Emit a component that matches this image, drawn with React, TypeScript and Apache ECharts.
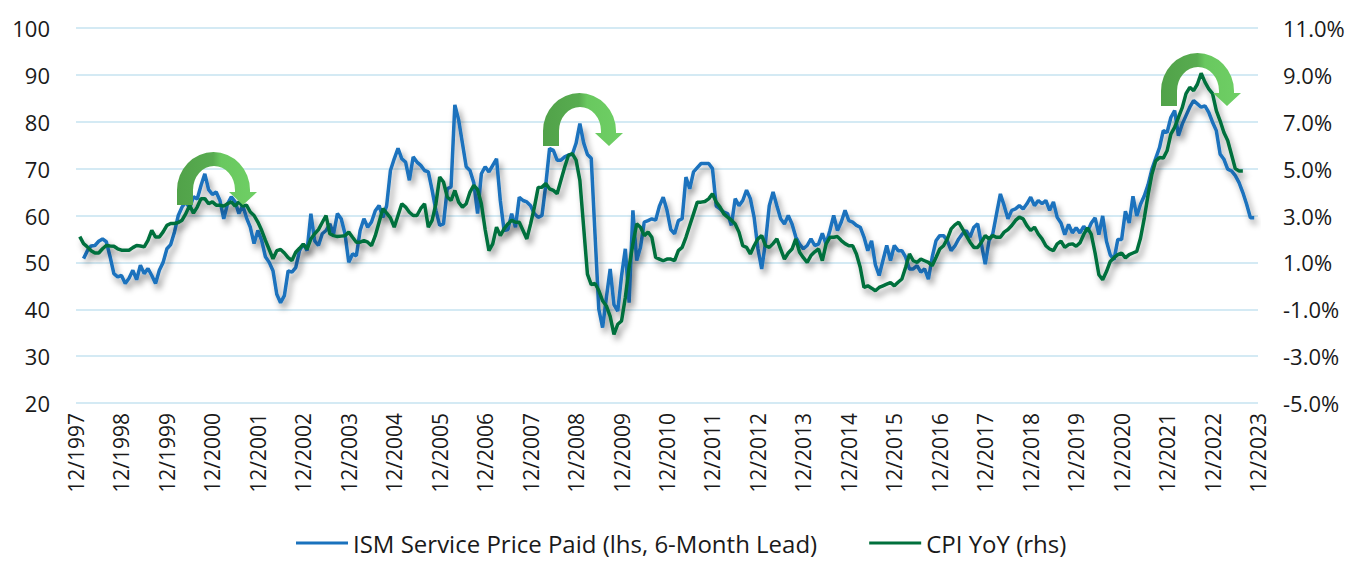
import React, { useEffect, useRef } from "react";
import * as echarts from "echarts";

// Month categories 12/1997 ... 12/2023
const categories: string[] = [];
for (let i = 0; i <= 312; i++) {
  const t = 11 + i;
  categories.push(`${(t % 12) + 1}/${1997 + Math.floor(t / 12)}`);
}

const ismName = "ISM Service Price Paid (lhs, 6-Month Lead)";
const cpiName = "CPI YoY (rhs)";

// ISM Services Prices Paid, shifted 6 months ahead (lhs)
const ism: (number | null)[] = [
  null, null, 50.8, 52.5, 53.5, 53.6, 54.5, 55.0, 54.4, 51.2,
  47.6, 46.9, 47.2, 45.5, 46.6, 48.3, 46.3, 49.4, 47.6, 48.7,
  47.2, 45.5, 48.3, 50.0, 52.9, 53.8, 56.5, 60.0, 61.8, 62.9,
  61.5, 64.0, 63.5, 66.4, 68.9, 65.5, 64.5, 65.0, 63.2, 59.3,
  62.5, 64.0, 62.9, 60.4, 62.2, 59.5, 57.5, 54.0, 56.8, 54.7,
  51.2, 50.0, 48.2, 43.2, 41.4, 42.9, 48.2, 47.9, 48.9, 52.5,
  53.9, 52.5, 60.4, 54.6, 53.6, 56.1, 56.8, 58.2, 56.1, 60.4,
  59.3, 56.1, 50.0, 51.8, 51.4, 56.8, 59.3, 57.5, 58.6, 61.0,
  62.1, 59.6, 62.1, 69.6, 72.1, 74.3, 72.1, 71.4, 67.5, 72.5,
  71.4, 70.7, 69.6, 69.3, 65.4, 61.1, 57.9, 58.2, 65.7, 66.1,
  83.6, 80.4, 75.4, 70.4, 69.6, 67.0, 60.4, 68.9, 70.4, 69.3,
  70.7, 72.1, 63.2, 56.8, 57.0, 60.4, 57.5, 63.9, 63.2, 62.9,
  62.1, 60.4, 59.6, 60.0, 66.5, 74.3, 73.9, 71.8, 71.8, 72.5,
  72.9, 73.0, 75.4, 79.6, 75.5, 73.0, 72.2, 56.0, 40.0, 36.1,
  42.5, 48.6, 41.0, 39.6, 47.1, 52.9, 41.4, 61.1, 50.4, 53.2,
  58.6, 58.9, 59.3, 59.0, 62.0, 63.9, 61.1, 57.0, 56.1, 58.9,
  59.3, 68.2, 65.7, 69.3, 70.2, 71.1, 71.1, 71.1, 70.0, 62.0,
  61.4, 60.7, 60.4, 57.9, 63.6, 62.1, 63.2, 65.4, 63.6, 59.6,
  52.9, 48.6, 54.3, 62.1, 65.0, 62.1, 59.3, 58.2, 60.0, 58.2,
  55.4, 53.9, 52.9, 53.6, 55.0, 53.6, 53.9, 56.2, 53.9, 56.8,
  60.0, 56.8, 58.6, 61.1, 58.9, 58.6, 57.9, 57.5, 55.4, 52.5,
  54.6, 49.5, 47.2, 50.4, 53.6, 50.4, 53.6, 52.5, 52.5, 51.1,
  48.6, 48.6, 49.3, 47.9, 48.6, 46.4, 51.1, 54.6, 55.7, 55.7,
  54.6, 52.5, 53.5, 55.0, 56.1, 56.8, 55.4, 57.5, 58.2, 53.9,
  49.6, 54.6, 56.1, 60.4, 64.6, 62.1, 59.3, 61.1, 61.4, 62.1,
  61.4, 62.5, 63.9, 62.1, 63.2, 62.5, 63.2, 61.1, 62.9, 59.6,
  58.4, 55.9, 58.1, 56.3, 57.4, 56.3, 57.7, 56.6, 58.4, 59.5,
  55.9, 59.9, 54.5, 51.6, 50.6, 54.9, 54.9, 60.9, 58.4, 64.1,
  59.9, 62.4, 64.2, 66.6, 69.9, 72.2, 74.5, 78.1, 77.7, 80.9,
  82.4, 77.0, 79.5, 81.3, 83.1, 84.5, 83.8, 83.1, 83.4, 82.0,
  79.9, 78.1, 73.1, 72.0, 69.9, 69.5, 68.5, 67.0, 64.9, 62.4,
  59.5, 59.5,
];

// CPI YoY, % (rhs)
const cpi: (number | null)[] = [
  null, 2.1, 1.8, 1.66, 1.5, 1.4, 1.4, 1.58, 1.72, 1.7,
  1.69, 1.58, 1.52, 1.52, 1.52, 1.63, 1.72, 1.7, 1.66, 1.94,
  2.37, 2.08, 2.08, 2.3, 2.58, 2.66, 2.66, 2.7, 2.8, 3.08,
  3.44, 3.1, 3.36, 3.72, 3.72, 3.5, 3.58, 3.44, 3.44, 3.4,
  3.5, 3.58, 3.4, 3.58, 3.4, 3.44, 3.15, 3.0, 2.72, 2.37,
  1.94, 1.55, 1.15, 1.5, 1.55, 1.4, 1.2, 1.08, 1.43, 1.6,
  1.78, 1.57, 2.0, 2.22, 2.4, 2.7, 3.0, 2.22, 2.14, 2.1,
  2.12, 2.14, 2.29, 2.07, 1.86, 1.86, 1.93, 1.86, 1.71, 2.14,
  2.71, 3.29, 3.1, 2.9, 2.5, 3.0, 3.5, 3.36, 3.14, 3.0,
  3.0, 3.3, 3.5, 2.5, 2.79, 3.5, 4.64, 4.43, 3.79, 3.64,
  4.07, 3.57, 3.36, 3.5, 4.0, 4.29, 4.1, 3.5, 2.4, 1.5,
  1.79, 2.5, 2.14, 2.43, 2.64, 2.8, 2.71, 2.71, 2.36, 2.0,
  2.64, 3.36, 4.2, 4.21, 4.36, 4.14, 4.07, 3.93, 4.5, 5.07,
  5.57, 5.64, 5.36, 4.5, 2.5, 0.5, 0.05, 0.1, -0.2, -0.64,
  -0.86, -1.3, -2.07, -1.64, -1.5, -0.5, 0.79, 1.79, 2.64, 2.5,
  2.14, 2.29, 2.07, 1.21, 1.14, 1.07, 1.14, 1.14, 1.07, 1.5,
  1.64, 2.07, 2.57, 3.07, 3.57, 3.57, 3.6, 3.71, 3.93, 3.57,
  3.36, 3.07, 2.93, 2.8, 2.64, 2.29, 1.71, 1.64, 1.36, 1.71,
  2.0, 2.14, 1.71, 1.64, 1.8, 2.0, 1.57, 1.14, 1.4, 1.57,
  2.0, 1.43, 1.2, 1.0, 1.29, 1.45, 1.57, 1.07, 1.79, 2.07,
  2.07, 2.1, 1.93, 1.8, 1.71, 1.71, 1.36, 0.79, -0.07, 0.0,
  -0.1, -0.21, -0.07, 0.0, 0.07, 0.14, 0.0, 0.15, 0.29, 0.79,
  1.36, 1.07, 1.0, 1.14, 1.07, 1.0, 0.86, 1.21, 1.57, 1.71,
  2.0, 2.43, 2.6, 2.71, 2.43, 2.14, 1.86, 1.64, 1.64, 1.86,
  2.14, 2.0, 2.14, 2.07, 2.07, 2.29, 2.4, 2.57, 2.79, 2.93,
  2.86, 2.57, 2.36, 2.5, 2.21, 2.0, 1.71, 1.57, 1.5, 1.79,
  1.9, 1.64, 1.76, 1.79, 1.69, 1.83, 2.19, 2.47, 2.19, 1.4,
  0.47, 0.26, 0.61, 1.04, 1.2, 1.33, 1.4, 1.19, 1.33, 1.4,
  1.47, 2.04, 2.9, 3.9, 4.76, 5.33, 5.47, 5.45, 5.76, 6.47,
  6.76, 7.19, 7.6, 8.2, 8.47, 8.33, 8.6, 9.07, 8.69, 8.4,
  8.2, 7.47, 7.04, 6.54, 6.2, 5.6, 5.0, 4.9, 4.9,
];

// Curved arrow annotations: top-left pixel positions
const arrowPositions: [number, number][] = [
  [177, 152],
  [543, 93],
  [1161, 53],
];

const ARROW_D =
  "M0 53 L0 38 A36.5 38 0 0 1 73 38 L73 40 L80 40 L66 53 L52 40 L58 40 L58 38 A21 24 0 0 0 16 38 L16 53 Z";

let registered = false;

export default function App() {
  const ref = useRef<HTMLDivElement>(null);

  useEffect(() => {
    document.body.style.margin = "0";
    if (!registered) {
      echarts.graphic.registerShape("arcArrow", echarts.graphic.extendPath(ARROW_D, {}) as any);
      registered = true;
    }
    const chart = echarts.init(ref.current!, undefined, { renderer: "svg" });
    const font = "'Open Sans', 'Noto Sans', sans-serif";
    const textColor = "#1a1a1a";
    const blue = "#1A72BD";
    const green = "#00703C";
    const shadow = {
      shadowColor: "rgba(0,0,0,0.4)",
      shadowBlur: 6,
      shadowOffsetX: 3,
      shadowOffsetY: 5,
    };

    const arrowFill = new echarts.graphic.LinearGradient(0, 0, 1, 0, [
      { offset: 0, color: "#51A249" },
      { offset: 0.45, color: "#58AC50" },
      { offset: 0.55, color: "#69C85F" },
      { offset: 1, color: "#6FCF65" },
    ]);

    chart.setOption({
      animation: false,
      grid: { left: 76, right: 95, top: 28, bottom: 159 },
      legend: {
        left: 296,
        top: 530,
        itemWidth: 52,
        itemHeight: 3,
        itemGap: 52,
        icon: "rect",
        padding: 0,
        textStyle: { fontSize: 24, lineHeight: 26, fontFamily: font, color: textColor },
        data: [ismName, cpiName],
      },
      xAxis: {
        type: "category",
        data: categories,
        boundaryGap: false,
        axisLine: { show: false },
        axisTick: { show: false },
        splitLine: { show: false },
        axisLabel: {
          interval: 11,
          rotate: 90,
          fontSize: 21,
          fontFamily: font,
          color: textColor,
          margin: 10,
        },
      },
      yAxis: [
        {
          type: "value",
          min: 20,
          max: 100,
          interval: 10,
          position: "left",
          axisLine: { show: false },
          axisTick: { show: false },
          axisLabel: { fontSize: 22, fontFamily: font, color: textColor, margin: 26 },
          splitLine: { lineStyle: { color: "#C6E3F0", width: 1.5 } },
        },
        {
          type: "value",
          min: -5,
          max: 11,
          interval: 2,
          position: "right",
          axisLine: { show: false },
          axisTick: { show: false },
          axisLabel: {
            fontSize: 22,
            fontFamily: font,
            color: textColor,
            margin: 25,
            formatter: (v: number) => v.toFixed(1) + "%",
          },
          splitLine: { show: false },
        },
      ],
      series: [
        {
          name: ismName,
          type: "line",
          yAxisIndex: 0,
          data: ism,
          symbol: "none",
          itemStyle: { color: blue },
          lineStyle: { width: 3.5, color: blue, ...shadow },
        },
        {
          name: cpiName,
          type: "line",
          yAxisIndex: 1,
          data: cpi,
          symbol: "none",
          itemStyle: { color: green },
          lineStyle: { width: 3.5, color: green, ...shadow },
        },
      ],
      graphic: arrowPositions.map(([x, y]) => ({
        type: "arcArrow",
        x,
        y,
        z: 100,
        style: { fill: arrowFill },
      })),
    });

    return () => chart.dispose();
  }, []);

  return <div ref={ref} style={{ width: 1353, height: 562 }} />;
}
